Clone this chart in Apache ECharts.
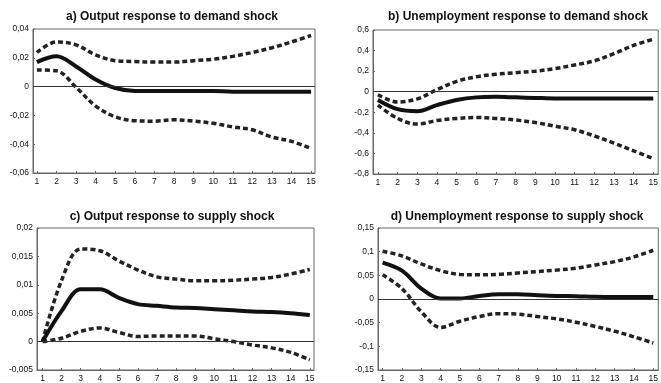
<!DOCTYPE html>
<html>
<head>
<meta charset="utf-8">
<script src="https://cdn.jsdelivr.net/npm/echarts@6/dist/echarts.min.js"></script>
<style>
  html, body { margin: 0; padding: 0; background: #fff; }
  #chart { width: 661px; height: 383px; }
</style>
</head>
<body>
<div id="chart"></div>
<script>
// Impulse responses over 15 periods with confidence bands
const periods = [1, 2, 3, 4, 5, 6, 7, 8, 9, 10, 11, 12, 13, 14, 15];

const titles = [
  'a) Output response to demand shock',
  'b) Unemployment response to demand shock',
  'c) Output response to supply shock',
  'd) Unemployment response to supply shock'
];

// a) Output response to demand shock
const outDemandMid   = [0.017, 0.021, 0.014, 0.005, -0.001, -0.003, -0.003, -0.003, -0.003, -0.003, -0.0035, -0.0035, -0.0035, -0.0035, -0.0035];
const outDemandUpper = [0.0237, 0.031, 0.029, 0.022, 0.018, 0.0174, 0.017, 0.017, 0.018, 0.019, 0.021, 0.0237, 0.027, 0.031, 0.0355];
const outDemandLower = [0.0116, 0.011, -0.0005, -0.0135, -0.021, -0.0237, -0.024, -0.023, -0.024, -0.0255, -0.028, -0.030, -0.035, -0.038, -0.043];

// b) Unemployment response to demand shock
const unDemandMid   = [-0.08, -0.17, -0.19, -0.13, -0.08, -0.055, -0.05, -0.055, -0.06, -0.065, -0.065, -0.065, -0.065, -0.065, -0.065];
const unDemandUpper = [-0.03, -0.1, -0.07, 0.02, 0.1, 0.145, 0.17, 0.185, 0.2, 0.225, 0.26, 0.3, 0.37, 0.45, 0.51];
const unDemandLower = [-0.13, -0.26, -0.315, -0.28, -0.26, -0.25, -0.26, -0.275, -0.3, -0.335, -0.37, -0.43, -0.5, -0.575, -0.65];

// c) Output response to supply shock
const outSupplyMid   = [0, 0.0054, 0.0092, 0.0092, 0.0077, 0.0066, 0.0063, 0.006, 0.0059, 0.0057, 0.0055, 0.0053, 0.0052, 0.005, 0.0047];
const outSupplyUpper = [0, 0.0108, 0.0163, 0.016, 0.0142, 0.0126, 0.0114, 0.011, 0.0107, 0.0107, 0.0108, 0.011, 0.0113, 0.0119, 0.0127];
const outSupplyLower = [0, 0.0006, 0.0018, 0.0024, 0.0016, 0.0009, 0.001, 0.001, 0.001, 0.0005, 0, -0.0006, -0.0011, -0.0019, -0.0032];

// d) Unemployment response to supply shock
const unSupplyMid   = [0.077, 0.06, 0.022, 0.001, 0.001, 0.0065, 0.01, 0.01, 0.008, 0.0065, 0.006, 0.0045, 0.004, 0.004, 0.004];
const unSupplyUpper = [0.101, 0.091, 0.074, 0.06, 0.052, 0.051, 0.052, 0.055, 0.058, 0.061, 0.065, 0.072, 0.079, 0.089, 0.103];
const unSupplyLower = [0.051, 0.022, -0.027, -0.06, -0.047, -0.037, -0.031, -0.032, -0.037, -0.042, -0.049, -0.058, -0.068, -0.08, -0.093];

// y-axis ranges: [min, max, interval]
const yRanges = [
  [-0.06, 0.04, 0.02],
  [-0.8, 0.6, 0.2],
  [-0.005, 0.02, 0.005],
  [-0.15, 0.15, 0.05]
];

const panels = [
  { mid: outDemandMid, up: outDemandUpper, lo: outDemandLower },
  { mid: unDemandMid,  up: unDemandUpper,  lo: unDemandLower },
  { mid: outSupplyMid, up: outSupplyUpper, lo: outSupplyLower },
  { mid: unSupplyMid,  up: unSupplyUpper,  lo: unSupplyLower }
];

// layout of each panel
const grids = [
  { left: 33, top: 29, width: 282, height: 144 },
  { left: 373, top: 30, width: 286, height: 144 },
  { left: 37, top: 228, width: 277, height: 145 },
  { left: 378, top: 228, width: 281, height: 144 }
];
const xExtents = [[0.8, 15.2], [0.75, 15.25], [0.71, 15.22], [0.76, 15.26]];
const titlePos = [[167, 6], [513, 6], [167, 206], [512, 206]];

const fmt = v => String(+v.toFixed(6)).replace('.', ',');
const pair = arr => arr.map((v, i) => [periods[i], v]);

const option = {
  backgroundColor: '#fff',
  animation: false,
  title: titles.map((t, i) => ({
    text: t,
    left: titlePos[i][0],
    top: titlePos[i][1],
    textAlign: 'center',
    textStyle: { fontFamily: 'Liberation Sans, Arial', fontSize: 12, fontWeight: 'bold', color: '#111' }
  })),
  grid: grids.map(g => Object.assign({ show: true, borderColor: '#666', borderWidth: 1, backgroundColor: 'transparent' }, g)),
  xAxis: grids.map((g, i) => ({
    type: 'value',
    gridIndex: i,
    min: xExtents[i][0],
    max: xExtents[i][1],
    splitLine: { show: false },
    axisLine: { show: true, onZero: false, lineStyle: { color: '#666', width: 1 } },
    axisTick: { show: true, inside: true, length: 2, customValues: periods, lineStyle: { color: '#666' } },
    axisLabel: {
      customValues: periods,
      fontFamily: 'Liberation Sans, Arial',
      fontSize: 8.5,
      color: '#111',
      margin: 4,
      formatter: v => String(v)
    }
  })),
  yAxis: yRanges.map((r, i) => ({
    type: 'value',
    gridIndex: i,
    min: r[0],
    max: r[1],
    interval: r[2],
    splitLine: { show: false },
    axisLine: { show: true, lineStyle: { color: '#666', width: 1 } },
    axisTick: { show: true, inside: true, length: 2, lineStyle: { color: '#666' } },
    axisLabel: {
      fontFamily: 'Liberation Sans, Arial',
      fontSize: 8.5,
      color: '#111',
      margin: 4,
      formatter: fmt
    }
  })),
  series: []
};

panels.forEach((p, i) => {
  const dashed = {
    type: 'line', xAxisIndex: i, yAxisIndex: i, smooth: 0.35, showSymbol: false,
    lineStyle: { color: '#222', width: 3.5, type: [5, 3] }, z: 3
  };
  option.series.push(Object.assign({}, dashed, { data: pair(p.up) }));
  option.series.push(Object.assign({}, dashed, { data: pair(p.lo) }));
  option.series.push({
    type: 'line', xAxisIndex: i, yAxisIndex: i, smooth: 0.35, showSymbol: false,
    data: pair(p.mid),
    lineStyle: { color: '#111', width: 4 }, z: 4,
    markLine: {
      silent: true, symbol: 'none', label: { show: false },
      lineStyle: { color: '#333', width: 1, type: 'solid' },
      data: [{ yAxis: 0 }]
    }
  });
});

const chart = echarts.init(document.getElementById('chart'), null, { renderer: 'canvas' });
chart.setOption(option);
</script>
</body>
</html>
